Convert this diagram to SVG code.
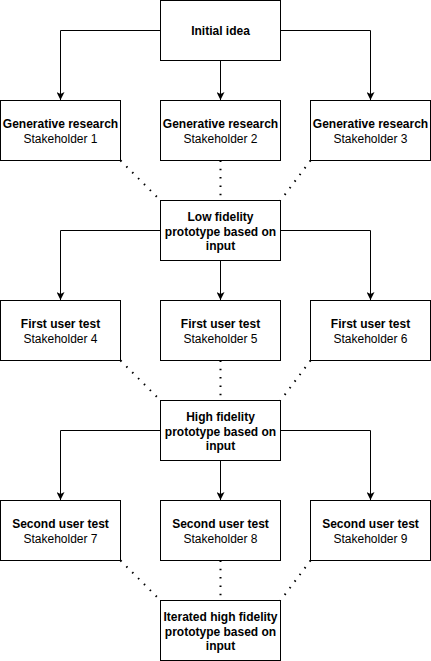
<svg xmlns="http://www.w3.org/2000/svg" width="431" height="661" viewBox="0 0 431 661">
<style>
.box{fill:#fff;stroke:#000;stroke-width:1}
.t{font-family:"Liberation Sans",Arial,sans-serif;font-size:12px;text-anchor:middle;fill:#000}
.b{font-weight:bold}
.edge{fill:none;stroke:#000;stroke-width:1}
.dot{fill:none;stroke:#000;stroke-width:2;stroke-dasharray:1.5 6.8}
</style>
<defs>
<marker id="arr" viewBox="0 0 10 10" refX="10" refY="5" markerWidth="8" markerHeight="8" markerUnits="userSpaceOnUse" orient="auto">
<path d="M0,0 L10,5 L0,10 L2.5,5 Z" fill="#000"/>
</marker>
</defs>
<rect width="431" height="661" fill="#fff"/>
<g id="connectors">
<path class="edge" d="M160.5,30.5 H60.5 V100" marker-end="url(#arr)"/>
<path class="edge" d="M220.5,60.5 V100" marker-end="url(#arr)"/>
<path class="edge" d="M280.5,30.5 H370.5 V100" marker-end="url(#arr)"/>
<path class="dot" d="M120.5,160.5 L160.5,200.5"/>
<path class="dot" d="M220.5,160.5 V200.5"/>
<path class="dot" d="M310.5,160.5 L280.5,200.5"/>
<path class="edge" d="M160.5,230.5 H60.5 V300" marker-end="url(#arr)"/>
<path class="edge" d="M220.5,260.5 V300" marker-end="url(#arr)"/>
<path class="edge" d="M280.5,230.5 H370.5 V300" marker-end="url(#arr)"/>
<path class="dot" d="M120.5,360.5 L160.5,400.5"/>
<path class="dot" d="M220.5,360.5 V400.5"/>
<path class="dot" d="M310.5,360.5 L280.5,400.5"/>
<path class="edge" d="M160.5,430.5 H60.5 V500" marker-end="url(#arr)"/>
<path class="edge" d="M220.5,460.5 V500" marker-end="url(#arr)"/>
<path class="edge" d="M280.5,430.5 H370.5 V500" marker-end="url(#arr)"/>
<path class="dot" d="M120.5,560.5 L160.5,600.5"/>
<path class="dot" d="M220.5,560.5 V600.5"/>
<path class="dot" d="M310.5,560.5 L280.5,600.5"/>
</g>
<g id="initial"><rect class="box" x="160.5" y="0.5" width="120" height="60"/><text class="t b" x="220.5" y="34.5">Initial idea</text></g>
<g id="gen1"><rect class="box" x="0.5" y="100.5" width="120" height="60"/><text class="t b" x="60.5" y="127.5">Generative research</text><text class="t" x="60.5" y="142.5">Stakeholder 1</text></g>
<g id="gen2"><rect class="box" x="160.5" y="100.5" width="120" height="60"/><text class="t b" x="220.5" y="127.5">Generative research</text><text class="t" x="220.5" y="142.5">Stakeholder 2</text></g>
<g id="gen3"><rect class="box" x="310.5" y="100.5" width="120" height="60"/><text class="t b" x="370.5" y="127.5">Generative research</text><text class="t" x="370.5" y="142.5">Stakeholder 3</text></g>
<g id="lowfi"><rect class="box" x="160.5" y="200.5" width="120" height="60"/><text class="t b" x="220.5" y="221">Low fidelity</text><text class="t b" x="220.5" y="235.5">prototype based on</text><text class="t b" x="220.5" y="250">input</text></g>
<g id="test1"><rect class="box" x="0.5" y="300.5" width="120" height="60"/><text class="t b" x="60.5" y="327.5">First user test</text><text class="t" x="60.5" y="342.5">Stakeholder 4</text></g>
<g id="test2"><rect class="box" x="160.5" y="300.5" width="120" height="60"/><text class="t b" x="220.5" y="327.5">First user test</text><text class="t" x="220.5" y="342.5">Stakeholder 5</text></g>
<g id="test3"><rect class="box" x="310.5" y="300.5" width="120" height="60"/><text class="t b" x="370.5" y="327.5">First user test</text><text class="t" x="370.5" y="342.5">Stakeholder 6</text></g>
<g id="hifi"><rect class="box" x="160.5" y="400.5" width="120" height="60"/><text class="t b" x="220.5" y="421">High fidelity</text><text class="t b" x="220.5" y="435.5">prototype based on</text><text class="t b" x="220.5" y="450">input</text></g>
<g id="test4"><rect class="box" x="0.5" y="500.5" width="120" height="60"/><text class="t b" x="60.5" y="527.5">Second user test</text><text class="t" x="60.5" y="542.5">Stakeholder 7</text></g>
<g id="test5"><rect class="box" x="160.5" y="500.5" width="120" height="60"/><text class="t b" x="220.5" y="527.5">Second user test</text><text class="t" x="220.5" y="542.5">Stakeholder 8</text></g>
<g id="test6"><rect class="box" x="310.5" y="500.5" width="120" height="60"/><text class="t b" x="370.5" y="527.5">Second user test</text><text class="t" x="370.5" y="542.5">Stakeholder 9</text></g>
<g id="iterated"><rect class="box" x="160.5" y="600.5" width="120" height="60"/><text class="t b" x="220.5" y="621">Iterated high fidelity</text><text class="t b" x="220.5" y="635.5">prototype based on</text><text class="t b" x="220.5" y="650">input</text></g>
</svg>
